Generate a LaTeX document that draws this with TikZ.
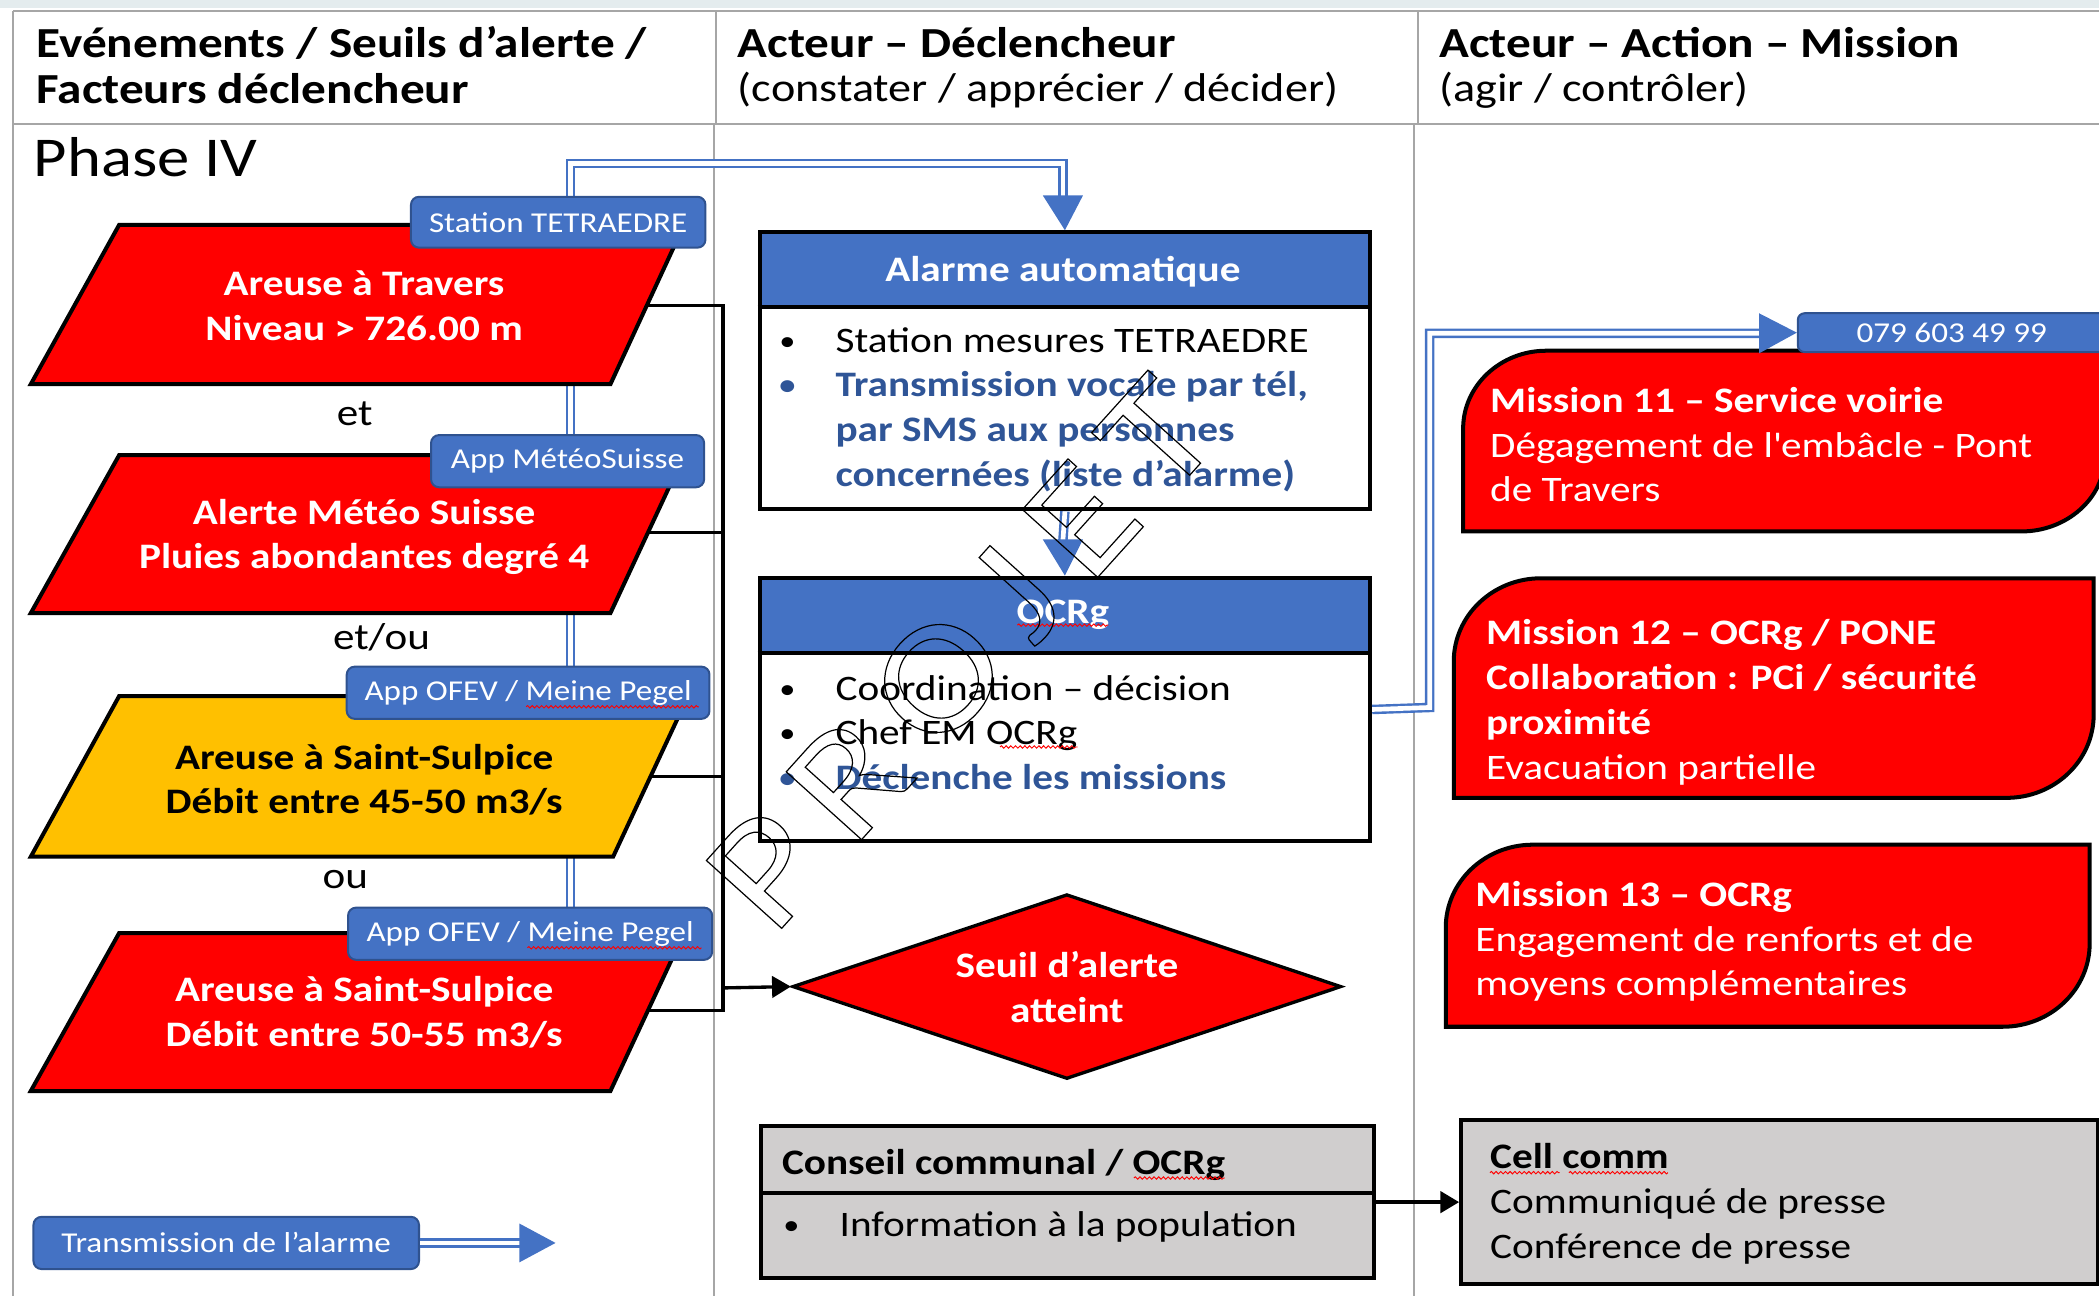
\documentclass[tikz,border=0pt]{standalone}
\usepackage{fontspec}
\setmainfont{Carlito}[FakeStretch=1.15]
\usetikzlibrary{arrows.meta,shapes.geometric,decorations.pathmorphing}
\definecolor{accblue}{HTML}{4472C4}
\definecolor{tagborder}{HTML}{2F528F}
\definecolor{txtblue}{HTML}{2F5597}
\definecolor{alertred}{HTML}{FF0000}
\definecolor{warnyellow}{HTML}{FFC000}
\definecolor{boxgray}{HTML}{D0CECE}
\definecolor{gridgray}{HTML}{A6A6A6}
\definecolor{topstrip}{HTML}{E4ECEE}
\newcommand{\fsz}[2]{\fontsize{#1}{#2}\selectfont}
\newcommand{\bul}{\makebox[42pt][l]{\raisebox{1.5pt}{\fontsize{21}{21}\selectfont\textbullet}}}
\newcommand{\wsp}{\hspace*{19pt}}
\begin{document}
\begin{tikzpicture}[x=1pt,y=-1pt,
  gridline/.style={draw=gridgray,line width=1.5pt},
  tagbox/.style={draw=tagborder,fill=accblue,line width=1.5pt,rounded corners=6pt,text=white,font=\fsz{21.5}{26},inner sep=0pt},
  dbl/.style={draw=accblue,line width=1.8pt,double=white,double distance=3.5pt},
  bluetip/.style={fill=accblue},
  shapeline/.style={draw=black,line width=3pt,line join=miter},
  conn/.style={draw=black,line width=2.5pt},
  blackbox/.style={draw=black,line width=3pt,inner sep=0pt,anchor=north west},
  bodytxt/.style={font=\fsz{26.8}{33.5},inner sep=0pt,align=left,anchor=base west},
  centtxt/.style={font=\fsz{26.8}{33.5}\bfseries,inner sep=0pt,align=center,anchor=base},
  smalltxt/.style={font=\fsz{28}{33},inner sep=0pt,anchor=base},
  wavy/.style={draw=red,line width=0.7pt,decorate,decoration={snake,amplitude=0.9pt,segment length=3.5pt}}
]
\useasboundingbox (0,0) rectangle (1568,968);
\fill[topstrip] (0,0) rectangle (1568,6);

% table grid
\draw[gridline] (10,8) -- (1568,8);
\draw[gridline] (10,93) -- (1568,93);
\draw[gridline] (10,8) -- (10,968);
\draw[gridline] (535,8) -- (535,93);
\draw[gridline] (533,93) -- (533,968);
\draw[gridline] (1059,8) -- (1059,93);
\draw[gridline] (1056,93) -- (1056,968);

% header
\node[font=\fsz{32}{34}\bfseries,anchor=base west,inner sep=0pt] (h1a) at (27,43) {Evénements / Seuils d’alerte /};
\node[font=\fsz{32}{34}\bfseries,anchor=base west,inner sep=0pt] (h1b) at (27,77) {Facteurs déclencheur};
\node[font=\fsz{32}{34}\bfseries,anchor=base west,inner sep=0pt] (h2a) at (551,43) {Acteur – Déclencheur};
\node[font=\fsz{30}{34},anchor=base west,inner sep=0pt] (h2b) at (551,76) {(constater / apprécier / décider)};
\node[font=\fsz{32}{34}\bfseries,anchor=base west,inner sep=0pt] (h3a) at (1075,43) {Acteur – Action – Mission};
\node[font=\fsz{30}{34},anchor=base west,inner sep=0pt] (h3b) at (1075,76) {(agir / contrôler)};

\node[font=\fsz{42}{50},anchor=base west,inner sep=0pt] (phase) at (25,132) {Phase IV};

% centre boxes
\fill[accblue] (566,172) rectangle (1022,229);
\node[blackbox,minimum width=456pt,minimum height=207pt] (alarm) at (566,172) {};
\draw[line width=3pt] (566,229) -- (1022,229);
\node[centtxt,text=white] (alarmh) at (794,210) {Alarme automatique};
\node[bodytxt] (alarmb) at (582,363.5) {\bul Station mesures TETRAEDRE\\
{\color{txtblue}\bfseries\bul Transmission vocale par tél,}\\
{\color{txtblue}\bfseries\hspace*{42pt}par SMS aux personnes}\\
{\color{txtblue}\bfseries\hspace*{42pt}concernées (liste d’alarme)}};

\fill[accblue] (566,430) rectangle (1022,488);
\node[blackbox,minimum width=456pt,minimum height=197pt] (ocrg) at (566,430) {};
\draw[line width=3pt] (566,488) -- (1022,488);
\node[centtxt,text=white] (ocrgh) at (794,466) {OCRg};
\node[bodytxt] (ocrgb) at (582,590) {\bul Coordination – décision\\
\bul Chef EM OCRg\\
{\color{txtblue}\bfseries\bul Déclenche les missions}};

% mission 11 and phone tag
\filldraw[shapeline,fill=alertred] (1093,320) .. controls (1093,288) and (1121,262) .. (1155,262) -- (1572,262) -- (1572,342) .. controls (1572,372) and (1544,397) .. (1510,397) -- (1093,397) -- cycle;
\node[tagbox,minimum width=230pt,minimum height=29pt,rounded corners=5pt] (tagP) at (1458,248.5) {079 603 49 99};
\node[bodytxt,text=white] (m11) at (1113,375) {\textbf{Mission 11 – Service voirie}\\Dégagement de l\textquotesingle embâcle - Pont\\de Travers};

% blue transmission routes
\draw[dbl] (426,700) -- (426,122) -- (794,122) -- (794,147);
\fill[bluetip] (779,146) -- (809,146) -- (alarm.north) -- cycle;
\draw[dbl] (alarm.south) -- (794,404);
\fill[bluetip] (779,403) -- (809,403) -- (ocrg.north) -- cycle;
\draw[dbl] (ocrg.east) -- (1068,528.5) -- (1068,249) -- (1315,249);
\fill[bluetip] (1314,234) -- (1314,264) -- (tagP.west) -- cycle;

% black connectors from events
\coordinate (p1e) at (470,228);
\coordinate (p2e) at (470,398);
\coordinate (p3e) at (470,580);
\coordinate (p4e) at (470,755);
\coordinate (bus) at (540,738);
\draw[conn] (p1e) -- (540,228) -- (540,755) -- (p4e);
\draw[conn] (p2e) -- (540,398);
\draw[conn] (p3e) -- (540,580);

% events
\filldraw[shapeline,fill=alertred] (89,168) -- (511,168) -- (456,287) -- (23,287) -- cycle;
\node[centtxt,text=white] (p1t) at (272,254) {Areuse à Travers\\Niveau > 726.00 m};
\node[tagbox,minimum width=220pt,minimum height=38pt] (tagA) at (417,166) {Station TETRAEDRE};
\node[smalltxt] (et1) at (265,318) {et};

\filldraw[shapeline,fill=alertred] (89,340) -- (511,340) -- (456,458) -- (23,458) -- cycle;
\node[centtxt,text=white] (p2t) at (272,425) {Alerte Météo Suisse\\Pluies abondantes degré 4};
\node[tagbox,minimum width=204pt,minimum height=39pt] (tagB) at (424,344.5) {App MétéoSuisse};
\node[smalltxt] (et2) at (285,485) {et/ou};

\filldraw[shapeline,fill=warnyellow] (89,520) -- (514,520) -- (458,640) -- (23,640) -- cycle;
\node[centtxt,text=black] (p3t) at (272,608) {Areuse à Saint-Sulpice\\Débit entre 45-50 m3/s};
\node[tagbox,minimum width=271pt,minimum height=39pt] (tagC) at (394.5,517.5) {App OFEV / Meine Pegel};
\node[smalltxt] (et3) at (258,664) {ou};

\filldraw[shapeline,fill=alertred] (89,697) -- (511,697) -- (456,815) -- (23,815) -- cycle;
\node[centtxt,text=white] (p4t) at (272,782) {Areuse à Saint-Sulpice\\Débit entre 50-55 m3/s};
\node[tagbox,minimum width=272pt,minimum height=39pt] (tagD) at (396,697.5) {App OFEV / Meine Pegel};

% threshold diamond
\node[diamond,draw=black,fill=alertred,line width=2.5pt,minimum width=410pt,minimum height=138pt,inner sep=0pt] (seuil) at (797,737) {};
\node[centtxt,text=white] (seuilt) at (797,764) {Seuil d’alerte\\atteint};
\draw[conn,-{Triangle[length=14pt,width=16pt]}] (bus) -- (seuil.west);

% missions 12, 13
\filldraw[shapeline,fill=alertred] (1086,494) .. controls (1086,460) and (1115,432) .. (1151,432) -- (1564,432) -- (1564,534) .. controls (1564,568) and (1535,596) .. (1499,596) -- (1086,596) -- cycle;
\node[bodytxt,text=white] (m12) at (1110,582) {\textbf{Mission 12 – OCRg / PONE}\\\textbf{Collaboration : PCi / sécurité}\\\textbf{proximité}\\Evacuation partielle};

\filldraw[shapeline,fill=alertred] (1080,693) .. controls (1080,659) and (1109,631) .. (1145,631) -- (1561,631) -- (1561,705) .. controls (1561,739) and (1532,767) .. (1496,767) -- (1080,767) -- cycle;
\node[bodytxt,text=white] (m13) at (1102,744) {\textbf{Mission 13 – OCRg}\\Engagement de renforts et de\\moyens complémentaires};

% communication
\node[blackbox,fill=boxgray,minimum width=458pt,minimum height=113pt] (conseil) at (567,840) {};
\draw[line width=3pt] (567,891) -- (1025,891);
\node[font=\fsz{26.8}{33.5}\bfseries,anchor=base west,inner sep=0pt] (conseilh) at (584,877) {Conseil communal / OCRg};
\node[bodytxt] (conseilb) at (585,924) {\makebox[42pt][l]{\raisebox{1.5pt}{\fontsize{21}{21}\selectfont\textbullet}}Information à la population};
\node[blackbox,fill=boxgray,minimum width=476pt,minimum height=123pt] (cell) at (1090,835) {};
\node[bodytxt] (cellt) at (1113,940) {\textbf{Cell comm}\\Communiqué de presse\\Conférence de presse};
\draw[conn,-{Triangle[length=14pt,width=16pt]}] (conseil.east) -- (cell.west);

% legend
\node[tagbox,minimum width=288pt,minimum height=39pt] (tagL) at (169,928.5) {Transmission de l’alarme};
\draw[dbl] (tagL.east) -- (389,928.5);
\fill[bluetip] (388,914) -- (388,943) -- (415,928.5) -- cycle;

% spell-check underlines
\draw[wavy] (393,528) -- (522,528);
\draw[wavy] (394,708) -- (524,708);
\draw[wavy] (760,467) -- (828,467);
\draw[wavy] (747,558) -- (805,558);
\draw[wavy] (847,880) -- (915,880);
\draw[wavy] (1113,876) -- (1165,876);
\draw[wavy] (1172,876) -- (1246,876);

% watermark
\node[rotate=48,font=\fsz{118}{118},inner sep=0pt] (wm) at (718,488) {\special{pdf:literal direct 0 G 0.9 w 1 Tr}P\wsp R\wsp O\wsp J\wsp E\wsp T\special{pdf:literal direct 0 Tr}};
\end{tikzpicture}
\end{document}
